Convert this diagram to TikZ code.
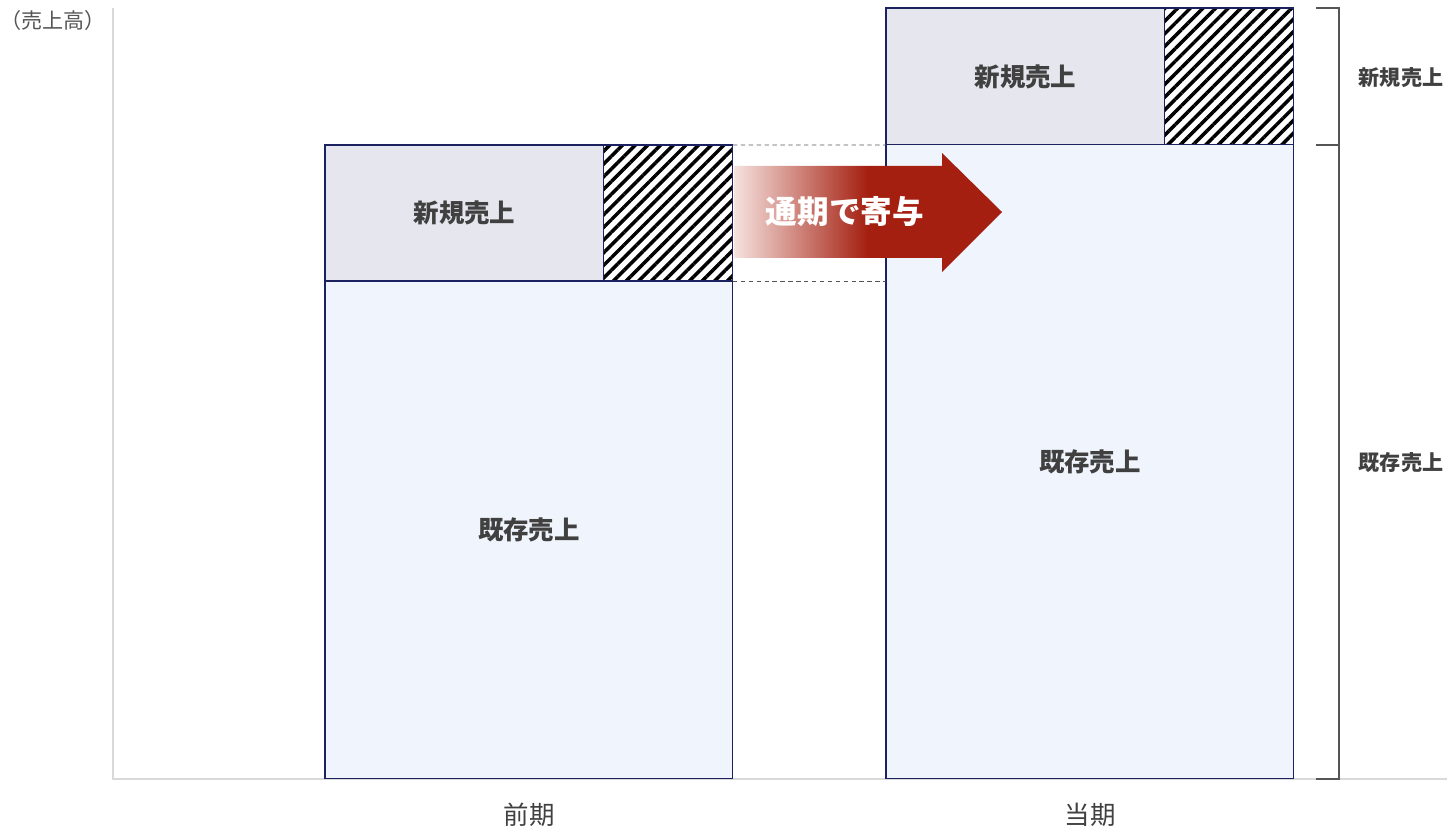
\documentclass[tikz,border=0pt]{standalone}
\usepackage{fontspec}
\setmainfont{Noto Sans CJK JP}
\usepackage{tikz}
\usetikzlibrary{positioning, patterns.meta}

\definecolor{navy}{HTML}{1C2260}
\definecolor{newfill}{HTML}{E5E6EE}
\definecolor{oldfill}{HTML}{F0F5FD}
\definecolor{axisgray}{HTML}{D9D9D9}
\definecolor{bracegray}{HTML}{555555}
\definecolor{txt}{HTML}{404040}
\definecolor{arrowred}{HTML}{A41F10}
\definecolor{arrowpale}{HTML}{F6E2DF}

\pgfdeclarehorizontalshading{arrowfade}{100bp}{color(0bp)=(arrowpale); color(25bp)=(arrowpale);
  color(50bp)=(arrowred); color(100bp)=(arrowred)}

\begin{document}
\begin{tikzpicture}[x=0.02cm, y=-0.02cm, text=txt,
  bar/.style={draw=navy, line width=0.6pt, inner sep=0pt, outer sep=0pt, anchor=north west},
  newbox/.style={bar, fill=newfill, minimum width=5.58cm},
  hatchbox/.style={bar, minimum width=2.58cm, pattern={Lines[angle=45, distance=5.1pt, line width=2pt]}, pattern color=black},
  oldbox/.style={bar, fill=oldfill, minimum width=8.16cm},
  barlabel/.style={font=\fontsize{14.5}{16}\selectfont\bfseries},
  sidelabel/.style={font=\fontsize{12}{14}\selectfont\bfseries},
  period/.style={font=\fontsize{14.5}{16}\selectfont},
  guide/.style={dashed, dash pattern=on 2.5pt off 2pt, bracegray, line width=0.5pt}]

  \useasboundingbox (0,0) rectangle (1447,831);

  % axes
  \coordinate (origin) at (113,779);
  \draw[axisgray, line width=0.8pt] (113,8) -- (origin) -- (1447,779);
  \node[font=\fontsize{12}{14}\selectfont, text=bracegray] (unit) at (53,20) {（売上高）};

  % previous period
  \node[newbox, minimum height=2.72cm] (newL) at (325,145) {};
  \node[hatchbox, minimum height=2.72cm] (hatchL) at (newL.north east) {};
  \node[oldbox, minimum height=9.96cm] (oldL) at (newL.south west) {};

  % current period
  \node[newbox, minimum height=2.74cm] (newR) at (886,8) {};
  \node[hatchbox, minimum height=2.74cm] (hatchR) at (newR.north east) {};
  \node[oldbox, minimum height=12.68cm] (oldR) at (newR.south west) {};

  \node[barlabel] (newLtext) at (newL) {新規売上};
  \node[barlabel] (oldLtext) at (oldL) {既存売上};
  \node[barlabel] (newRtext) at (newR) {新規売上};
  \node[barlabel] (oldRtext) at (oldR) {既存売上};

  \draw[guide] (hatchL.north east) -- (oldR.north west);
  \draw[guide] (hatchL.south east) -- (oldR.west |- hatchL.south east);

  % arrow
  \shade[shading=arrowfade] (734,166) -- (942,166) -- (942,153) -- (1002,212)
    -- (942,272) -- (942,258) -- (734,258) -- cycle;
  \node[font=\fontsize{18}{20}\selectfont\bfseries, text=white] (contrib) at (845,212) {通期で寄与};

  % bracket
  \coordinate (btop) at (1339,8);
  \coordinate (bmid) at (1339,145);
  \coordinate (bbot) at (1339,779);
  \draw[bracegray, line width=0.8pt] (1316,8) -- (btop) -- (bbot) -- (1316,779);
  \draw[bracegray, line width=0.8pt] (1316,145) -- (bmid);
  \node[sidelabel] (newside) at (1401,78) {新規売上};
  \node[sidelabel] (oldside) at (1401,463) {既存売上};

  \node[period] (prev) at (529,815) {前期};
  \node[period] (curr) at (1090,815) {当期};
\end{tikzpicture}
\end{document}
